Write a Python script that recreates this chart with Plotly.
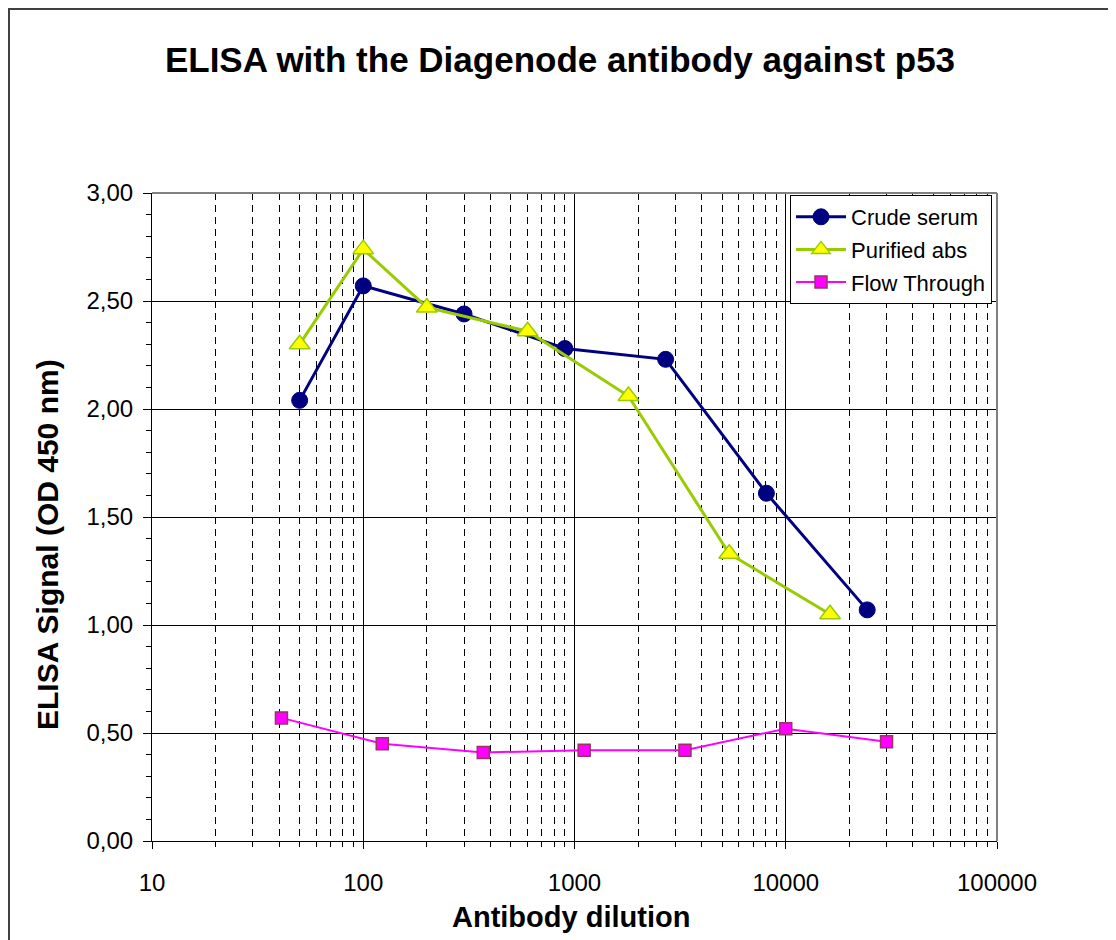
import plotly.graph_objects as go

# Data
crude_x = [50, 100, 300, 900, 2700, 8100, 24300]
crude_y = [2.04, 2.57, 2.44, 2.28, 2.23, 1.61, 1.07]
pur_x = [50, 100, 200, 600, 1800, 5400, 16200]
pur_y = [2.30, 2.74, 2.47, 2.36, 2.06, 1.33, 1.05]
flow_x = [41, 123, 370, 1111, 3333, 10000, 30000]
flow_y = [0.57, 0.45, 0.41, 0.42, 0.42, 0.52, 0.46]

x_major = [10, 100, 1000, 10000, 100000]
x_major_labels = ["10", "100", "1000", "10000", "100000"]
x_minor = [m * d for d in [10, 100, 1000, 10000] for m in range(2, 10)]

FONT = "Liberation Sans, Arial, sans-serif"

fig = go.Figure()
fig.add_trace(go.Scatter(
    x=crude_x, y=crude_y, name="Crude serum", mode="lines+markers", legendgroup="a",
    line=dict(color="#000080", width=3),
    marker=dict(symbol="circle", size=16, color="#000080", line=dict(color="#000080", width=1)),
))
fig.add_trace(go.Scatter(
    x=pur_x, y=pur_y, name="Purified abs", mode="lines+markers", legendgroup="b",
    line=dict(color="#99CC00", width=3),
    marker=dict(symbol="triangle-up", size=18, color="#FFFF00", line=dict(color="#99CC00", width=1.5)),
))
fig.add_trace(go.Scatter(
    x=flow_x, y=flow_y, name="Flow Through", mode="lines+markers", legendgroup="c",
    line=dict(color="#FF00FF", width=2),
    marker=dict(symbol="square", size=12, color="#FF00FF", line=dict(color="#993366", width=1.5)),
))

OFF = 8  # page body margin
W, H = 1116, 940
# plot area in screenshot pixels
L_img, R_img, T_img, B_img = 152, 997, 193, 841
L, R, T, B = L_img - OFF, R_img - OFF, T_img - OFF, B_img - OFF
pw, ph = R - L, B - T

def px(ximg):
    return (ximg - OFF - L) / pw

def py(yimg):
    return (B - (yimg - OFF)) / ph

fig.update_layout(
    width=W, height=H,
    margin=dict(l=L, r=W - R, t=T, b=H - B, autoexpand=False),
    paper_bgcolor="white", plot_bgcolor="white",
    separators=",.",
    font=dict(family=FONT, color="black", size=24),
    title=dict(text="<b>ELISA with the Diagenode antibody against p53</b>",
               x=(560 - OFF) / W, xanchor="center", y=1 - (60 - OFF) / H, yanchor="middle",
               font=dict(family=FONT, size=35, color="black")),
    showlegend=True,
    legend=dict(x=px(790), y=py(195), xanchor="left", yanchor="top",
                bordercolor="black", borderwidth=1, bgcolor="white",
                font=dict(family=FONT, size=22, color="black"),
                tracegroupgap=1, itemwidth=50),
    xaxis=dict(
        type="log", range=[1, 5],
        tickmode="array", tickvals=x_major, ticktext=x_major_labels,
        showgrid=True, gridcolor="black", gridwidth=1,
        showline=True, linecolor="black", linewidth=1, mirror=False,
        ticks="outside", ticklen=7, tickcolor="black",
        tickfont=dict(family=FONT, size=24),
        ticklabelstandoff=13,
        minor=dict(tickmode="array", tickvals=x_minor, showgrid=True,
                   gridcolor="black", gridwidth=1, griddash="7px,5px",
                   ticks="outside", ticklen=5, tickcolor="black"),
        zeroline=False,
    ),
    yaxis=dict(
        range=[0, 3], tickmode="linear", tick0=0, dtick=0.5, tickformat=".2f",
        showgrid=True, gridcolor="black", gridwidth=1,
        showline=True, linecolor="black", linewidth=1,
        ticks="outside", ticklen=8, tickcolor="black",
        tickfont=dict(family=FONT, size=24),
        ticklabelstandoff=5,
        minor=dict(dtick=0.1, ticks="outside", ticklen=5, tickcolor="black", showgrid=False),
        zeroline=False,
    ),
    annotations=[
        dict(text="<b>ELISA Signal (OD 450 nm)</b>", textangle=-90,
             xref="paper", yref="paper", x=px(47), y=py(545),
             xanchor="center", yanchor="middle", showarrow=False,
             font=dict(family=FONT, size=30, color="black")),
        dict(text="<b>Antibody dilution</b>",
             xref="paper", yref="paper", x=px(571), y=py(917),
             xanchor="center", yanchor="middle", showarrow=False,
             font=dict(family=FONT, size=29, color="black")),
    ],
    shapes=[
        dict(type="line", xref="paper", yref="paper", x0=0, x1=1, y0=1, y1=1,
             line=dict(color="#808080", width=2)),
        dict(type="line", xref="paper", yref="paper", x0=1, x1=1, y0=0, y1=1,
             line=dict(color="#808080", width=2)),
        dict(type="rect", xref="paper", yref="paper",
             x0=px(9), x1=px(1114), y0=py(960), y1=py(9),
             line=dict(color="#404040", width=2), layer="below"),
    ],
)

fig.write_html("out.html")
